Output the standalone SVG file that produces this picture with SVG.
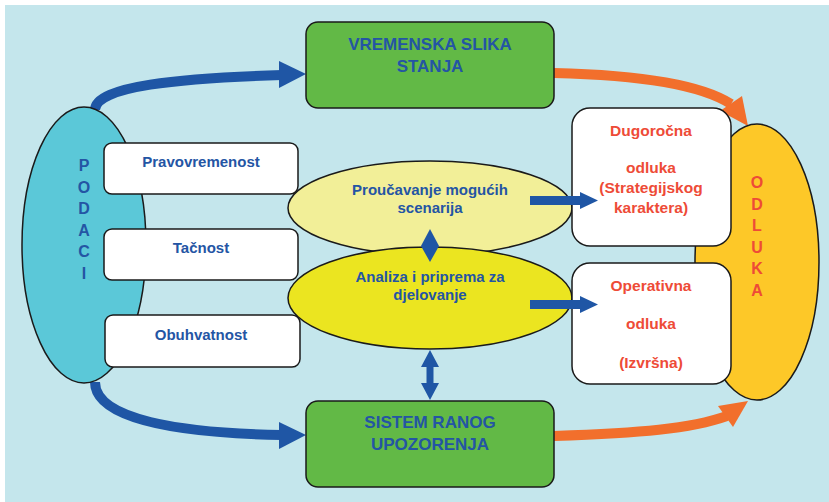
<svg xmlns="http://www.w3.org/2000/svg" width="829" height="502" viewBox="0 0 829 502">
<style>
.ln{stroke:#1a1a1a;stroke-width:1.5}
.t{font-family:"Liberation Sans",Arial,sans-serif;font-weight:bold;text-anchor:middle}
.b{fill:#2455a4}
.r{fill:#ee4b37}
.bl{fill:none;stroke:#1f56a5;stroke-width:10}
.or{fill:none;stroke:#f26f2c;stroke-width:10}
</style>
<rect x="0" y="0" width="829" height="502" fill="#ffffff"/>
<rect x="5" y="5" width="824" height="497" fill="#c4e6ec"/>
<g id="connectors">
<path class="bl" d="M95 110 C95 86 180 78 282 75"/>
<polygon points="306,74 279,61 279,88" fill="#1f56a5"/>
<path class="bl" d="M95 382 C95 420 180 433 282 435"/>
<polygon points="306,435 279,422 279,449" fill="#1f56a5"/>
<path class="or" d="M554 73 C640 75 700 84 731 104"/>
<polygon points="748,126 720,111 742,96" fill="#f26f2c"/>
<path class="or" d="M554 436 C640 433 690 429 727 416"/>
<polygon points="748,401 718,406 733,427" fill="#f26f2c"/>
</g>
<g id="podaci">
<ellipse class="ln" cx="84" cy="245" rx="62" ry="138" fill="#5bc8d8"/>
<g class="t b" font-size="16">
<text x="84" y="171">P</text><text x="84" y="192.5">O</text><text x="84" y="214">D</text><text x="84" y="235.5">A</text><text x="84" y="257">C</text><text x="84" y="278.5">I</text>
</g>
</g>
<g id="pravovremenost">
<rect class="ln" x="104" y="143" width="194" height="51" rx="8" fill="#ffffff"/>
<text class="t b" x="201" y="167" font-size="15">Pravovremenost</text>
</g>
<g id="tacnost">
<rect class="ln" x="104" y="229" width="194" height="51" rx="8" fill="#ffffff"/>
<text class="t b" x="201" y="253" font-size="15">Tačnost</text>
</g>
<g id="obuhvatnost">
<rect class="ln" x="105" y="315" width="195" height="52" rx="8" fill="#ffffff"/>
<text class="t b" x="201" y="340" font-size="15">Obuhvatnost</text>
</g>
<g id="vremenska">
<rect class="ln" x="306" y="22" width="248" height="86" rx="12" fill="#62b946"/>
<text class="t b" x="430" y="50" font-size="17">VREMENSKA SLIKA</text>
<text class="t b" x="430" y="72" font-size="17">STANJA</text>
</g>
<g id="sistem">
<rect class="ln" x="306" y="401" width="248" height="86" rx="12" fill="#62b946"/>
<text class="t b" x="430" y="428" font-size="17">SISTEM RANOG</text>
<text class="t b" x="430" y="450" font-size="17">UPOZORENJA</text>
</g>
<g id="odluka">
<ellipse class="ln" cx="757" cy="262" rx="62" ry="138" fill="#fdc828"/>
<g class="t r" font-size="16">
<text x="757" y="188">O</text><text x="757" y="209.5">D</text><text x="757" y="231">L</text><text x="757" y="252.5">U</text><text x="757" y="274">K</text><text x="757" y="295.5">A</text>
</g>
</g>
<g id="proucavanje">
<ellipse class="ln" cx="430" cy="208" rx="142" ry="47" fill="#f2ef98"/>
<text class="t b" x="430" y="195" font-size="15">Proučavanje mogućih</text>
<text class="t b" x="430" y="213" font-size="15">scenarija</text>
</g>
<g id="analiza">
<ellipse class="ln" cx="430" cy="298" rx="142" ry="51" fill="#ebe520"/>
<text class="t b" x="430" y="282" font-size="15">Analiza i priprema za</text>
<text class="t b" x="430" y="300" font-size="15">djelovanje</text>
</g>
<g id="dugorocna">
<rect class="ln" x="572" y="108" width="159" height="138" rx="18" fill="#ffffff"/>
<text class="t r" x="651" y="136" font-size="15.5">Dugoročna</text>
<text class="t r" x="651" y="173" font-size="15.5">odluka</text>
<text class="t r" x="651" y="193" font-size="15.5">(Strategijskog</text>
<text class="t r" x="651" y="213" font-size="15.5">karaktera)</text>
</g>
<g id="operativna">
<rect class="ln" x="572" y="263" width="159" height="121" rx="18" fill="#ffffff"/>
<text class="t r" x="651" y="291" font-size="15.5">Operativna</text>
<text class="t r" x="651" y="329" font-size="15.5">odluka</text>
<text class="t r" x="651" y="368" font-size="15.5">(Izvršna)</text>
</g>
<g id="links" fill="#1f56a5">
<polygon points="430,229 439,246 430,262 421,246"/>
<polygon points="430,350 439,367 433.5,367 433.5,383 439,383 430,400 421,383 426.5,383 426.5,367 421,367"/>
<polygon points="530,196 580,196 580,192 598,200.5 580,209 580,205 530,205"/>
<polygon points="530,300 580,300 580,296 598,304.5 580,313 580,309 530,309"/>
</g>
</svg>
